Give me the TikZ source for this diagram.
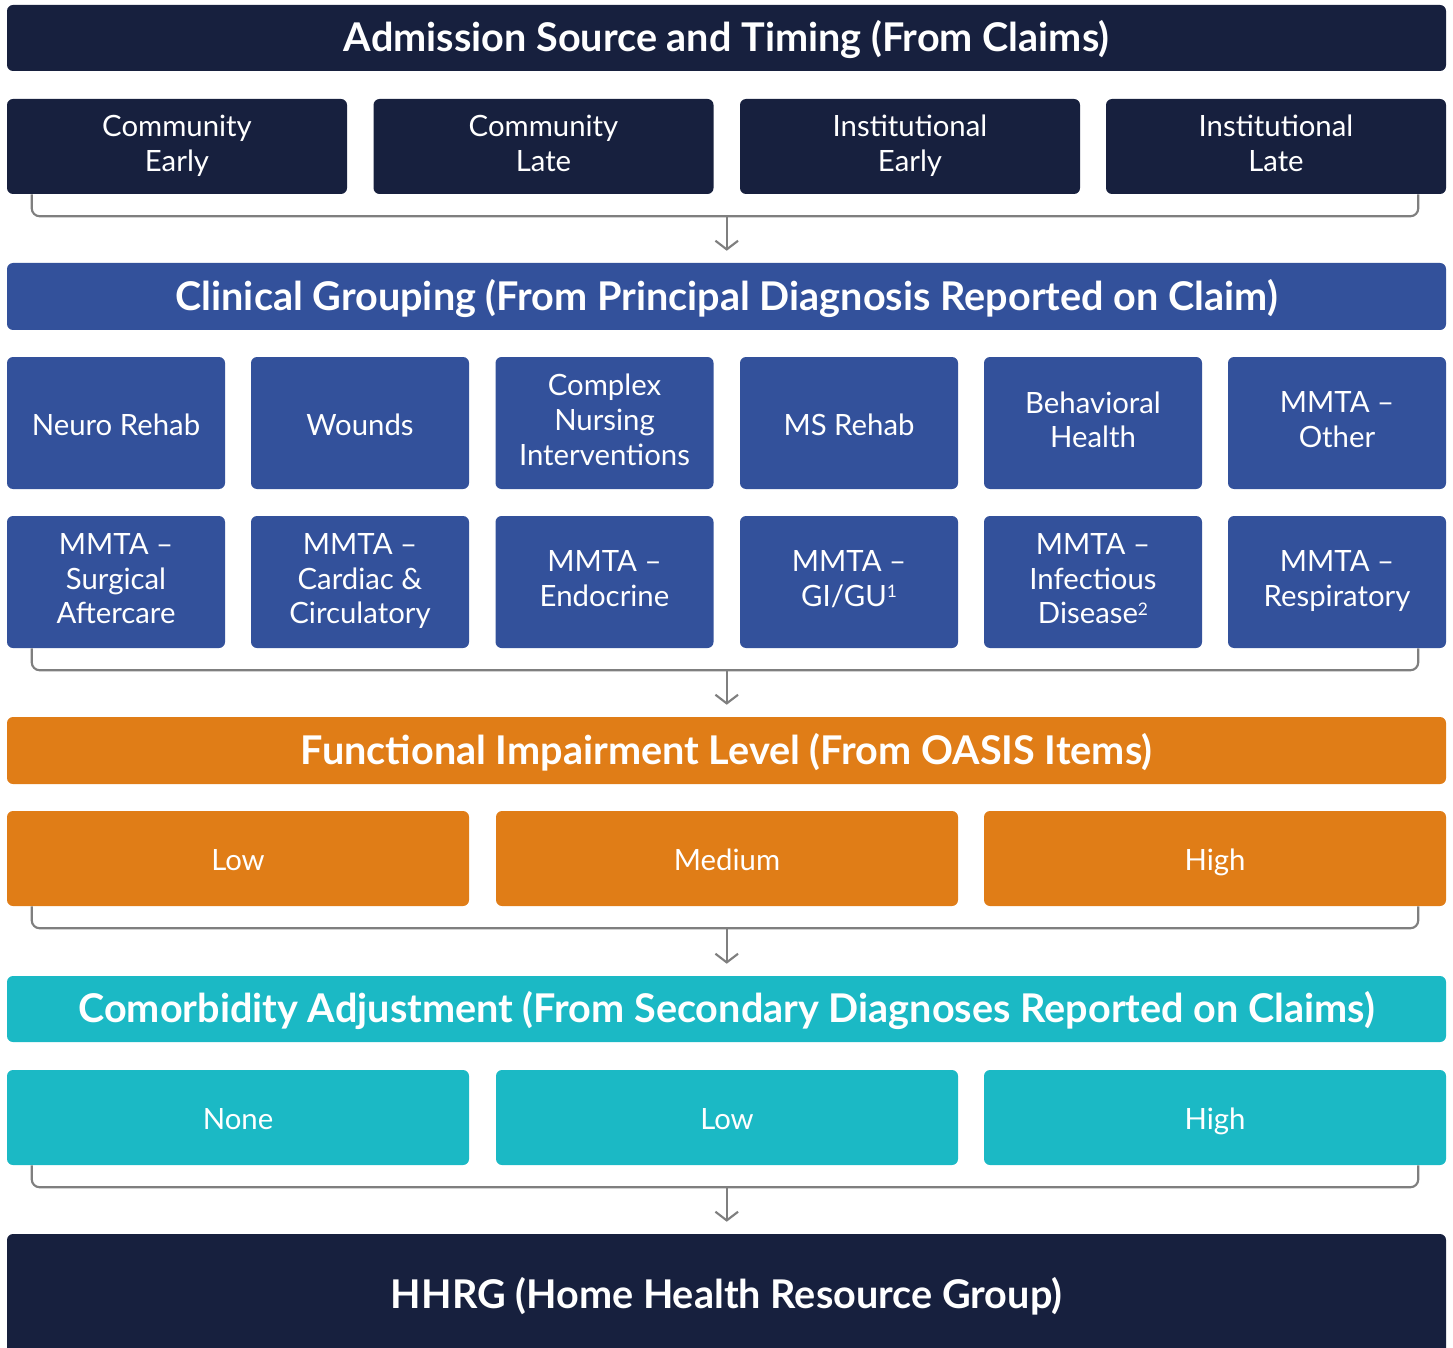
\documentclass[tikz,border=0pt]{standalone}
\usepackage{fontspec}
\setmainfont{Lato}
\usetikzlibrary{arrows.meta,calc}
\definecolor{navy}{HTML}{17203E}
\definecolor{cblue}{HTML}{33519B}
\definecolor{corange}{HTML}{E07D17}
\definecolor{cteal}{HTML}{1BB9C5}
\definecolor{cgray}{HTML}{7F7F7F}
\newcommand{\supnum}[1]{\raisebox{6.5pt}{\fontsize{13}{13}\selectfont #1}}
\begin{document}
\begin{tikzpicture}[x=0.75pt,y=-0.75pt,
  wh/.style 2 args={minimum width=#1*0.75pt, minimum height=#2*0.75pt},
  box/.style={rounded corners=4.5pt, inner sep=0pt, text=white, align=center,
    font=\fontsize{22}{26}\selectfont,
    execute at begin node=\rule{0pt}{23.5pt},
    execute at end node=\rule[-5pt]{0pt}{5pt}},
  titlebox/.style={rounded corners=4.5pt, inner sep=0pt, text=white, align=center,
    font=\fontsize{29.7}{33}\bfseries\selectfont,
    execute at begin node=\rule{0pt}{27pt},
    execute at end node=\rule[-6.2pt]{0pt}{6.2pt}},
  brk/.style={draw=cgray, line width=1.6pt, rounded corners=6pt},
  arr/.style={draw=cgray, line width=1.6pt, -{Straight Barb[length=6.5pt,width=17pt,line width=1.6pt]}, shorten >=9pt}
]
\useasboundingbox (0,0) rectangle (1453,1348);
\clip (0,0) rectangle (1453,1348);

% Level 1
\node[titlebox, fill=navy, wh={1439}{66}] (t1) at (726.5,38) {Admission Source and Timing (From Claims)};
\node[box, fill=navy, wh={340}{95}] (a1) at (177,146.5) {Community\\Early};
\node[box, fill=navy, wh={340}{95}] (a2) at (543.5,146.5) {Community\\Late};
\node[box, fill=navy, wh={340}{95}] (a3) at (910,146.5) {Institutional\\Early};
\node[box, fill=navy, wh={340}{95}] (a4) at (1276,146.5) {Institutional\\Late};

% Level 2
\node[titlebox, fill=cblue, wh={1439}{67}] (t2) at (726.5,296.5) {Clinical Grouping (From Principal Diagnosis Reported on Claim)};
\node[box, fill=cblue, wh={218}{132}] (b1) at (116,423) {Neuro Rehab};
\node[box, fill=cblue, wh={218}{132}] (b2) at (360,423) {Wounds};
\node[box, fill=cblue, wh={218}{132}] (b3) at (604.5,423) {Complex\\Nursing\\Interventions};
\node[box, fill=cblue, wh={218}{132}] (b4) at (849,423) {MS Rehab};
\node[box, fill=cblue, wh={218}{132}] (b5) at (1093,423) {Behavioral\\Health};
\node[box, fill=cblue, wh={218}{132}] (b6) at (1337,423) {MMTA --\\Other};
\node[box, fill=cblue, wh={218}{132}] (c1) at (116,582) {MMTA --\\Surgical\\Aftercare};
\node[box, fill=cblue, wh={218}{132}] (c2) at (360,582) {MMTA --\\Cardiac \&\\Circulatory};
\node[box, fill=cblue, wh={218}{132}] (c3) at (604.5,582) {MMTA --\\Endocrine};
\node[box, fill=cblue, wh={218}{132}] (c4) at (849,582) {MMTA --\\GI/GU\supnum{1}};
\node[box, fill=cblue, wh={218}{132}] (c5) at (1093,582) {MMTA --\\Infectious\\Disease\supnum{2}};
\node[box, fill=cblue, wh={218}{132}] (c6) at (1337,582) {MMTA --\\Respiratory};

% Level 3
\node[titlebox, fill=corange, wh={1439}{67}] (t3) at (726.5,750.5) {Functional Impairment Level (From OASIS Items)};
\node[box, fill=corange, wh={462}{95}] (d1) at (238,858.5) {Low};
\node[box, fill=corange, wh={462}{95}] (d2) at (727,858.5) {Medium};
\node[box, fill=corange, wh={462}{95}] (d3) at (1215,858.5) {High};

% Level 4
\node[titlebox, fill=cteal, wh={1439}{66}] (t4) at (726.5,1009) {Comorbidity Adjustment (From Secondary Diagnoses Reported on Claims)};
\node[box, fill=cteal, wh={462}{95}] (e1) at (238,1117.5) {None};
\node[box, fill=cteal, wh={462}{95}] (e2) at (727,1117.5) {Low};
\node[box, fill=cteal, wh={462}{95}] (e3) at (1215,1117.5) {High};

% Final
\node[titlebox, fill=navy, wh={1439}{122}] (f) at (726.5,1295) {HHRG (Home Health Resource Group)};

% Brackets and arrows
\draw[brk] ($(a1.south west)+(25,0)$) -- ++(0,22) coordinate (k1) -- ($(a4.south east)+(-28,22)$) -- ($(a4.south east)+(-28,0)$);
\coordinate (m1) at ($(k1)+(695,0)$);
\draw[arr] (m1) -- (m1 |- t2.north);

\draw[brk] ($(c1.south west)+(25,0)$) -- ++(0,22) coordinate (k2) -- ($(c6.south east)+(-28,22)$) -- ($(c6.south east)+(-28,0)$);
\coordinate (m2) at ($(k2)+(695,0)$);
\draw[arr] (m2) -- (m2 |- t3.north);

\draw[brk] ($(d1.south west)+(25,0)$) -- ++(0,22) coordinate (k3) -- ($(d3.south east)+(-28,22)$) -- ($(d3.south east)+(-28,0)$);
\coordinate (m3) at ($(k3)+(695,0)$);
\draw[arr] (m3) -- (m3 |- t4.north);

\draw[brk] ($(e1.south west)+(25,0)$) -- ++(0,22) coordinate (k4) -- ($(e3.south east)+(-28,22)$) -- ($(e3.south east)+(-28,0)$);
\coordinate (m4) at ($(k4)+(695,0)$);
\draw[arr] (m4) -- (m4 |- f.north);
\end{tikzpicture}
\end{document}
